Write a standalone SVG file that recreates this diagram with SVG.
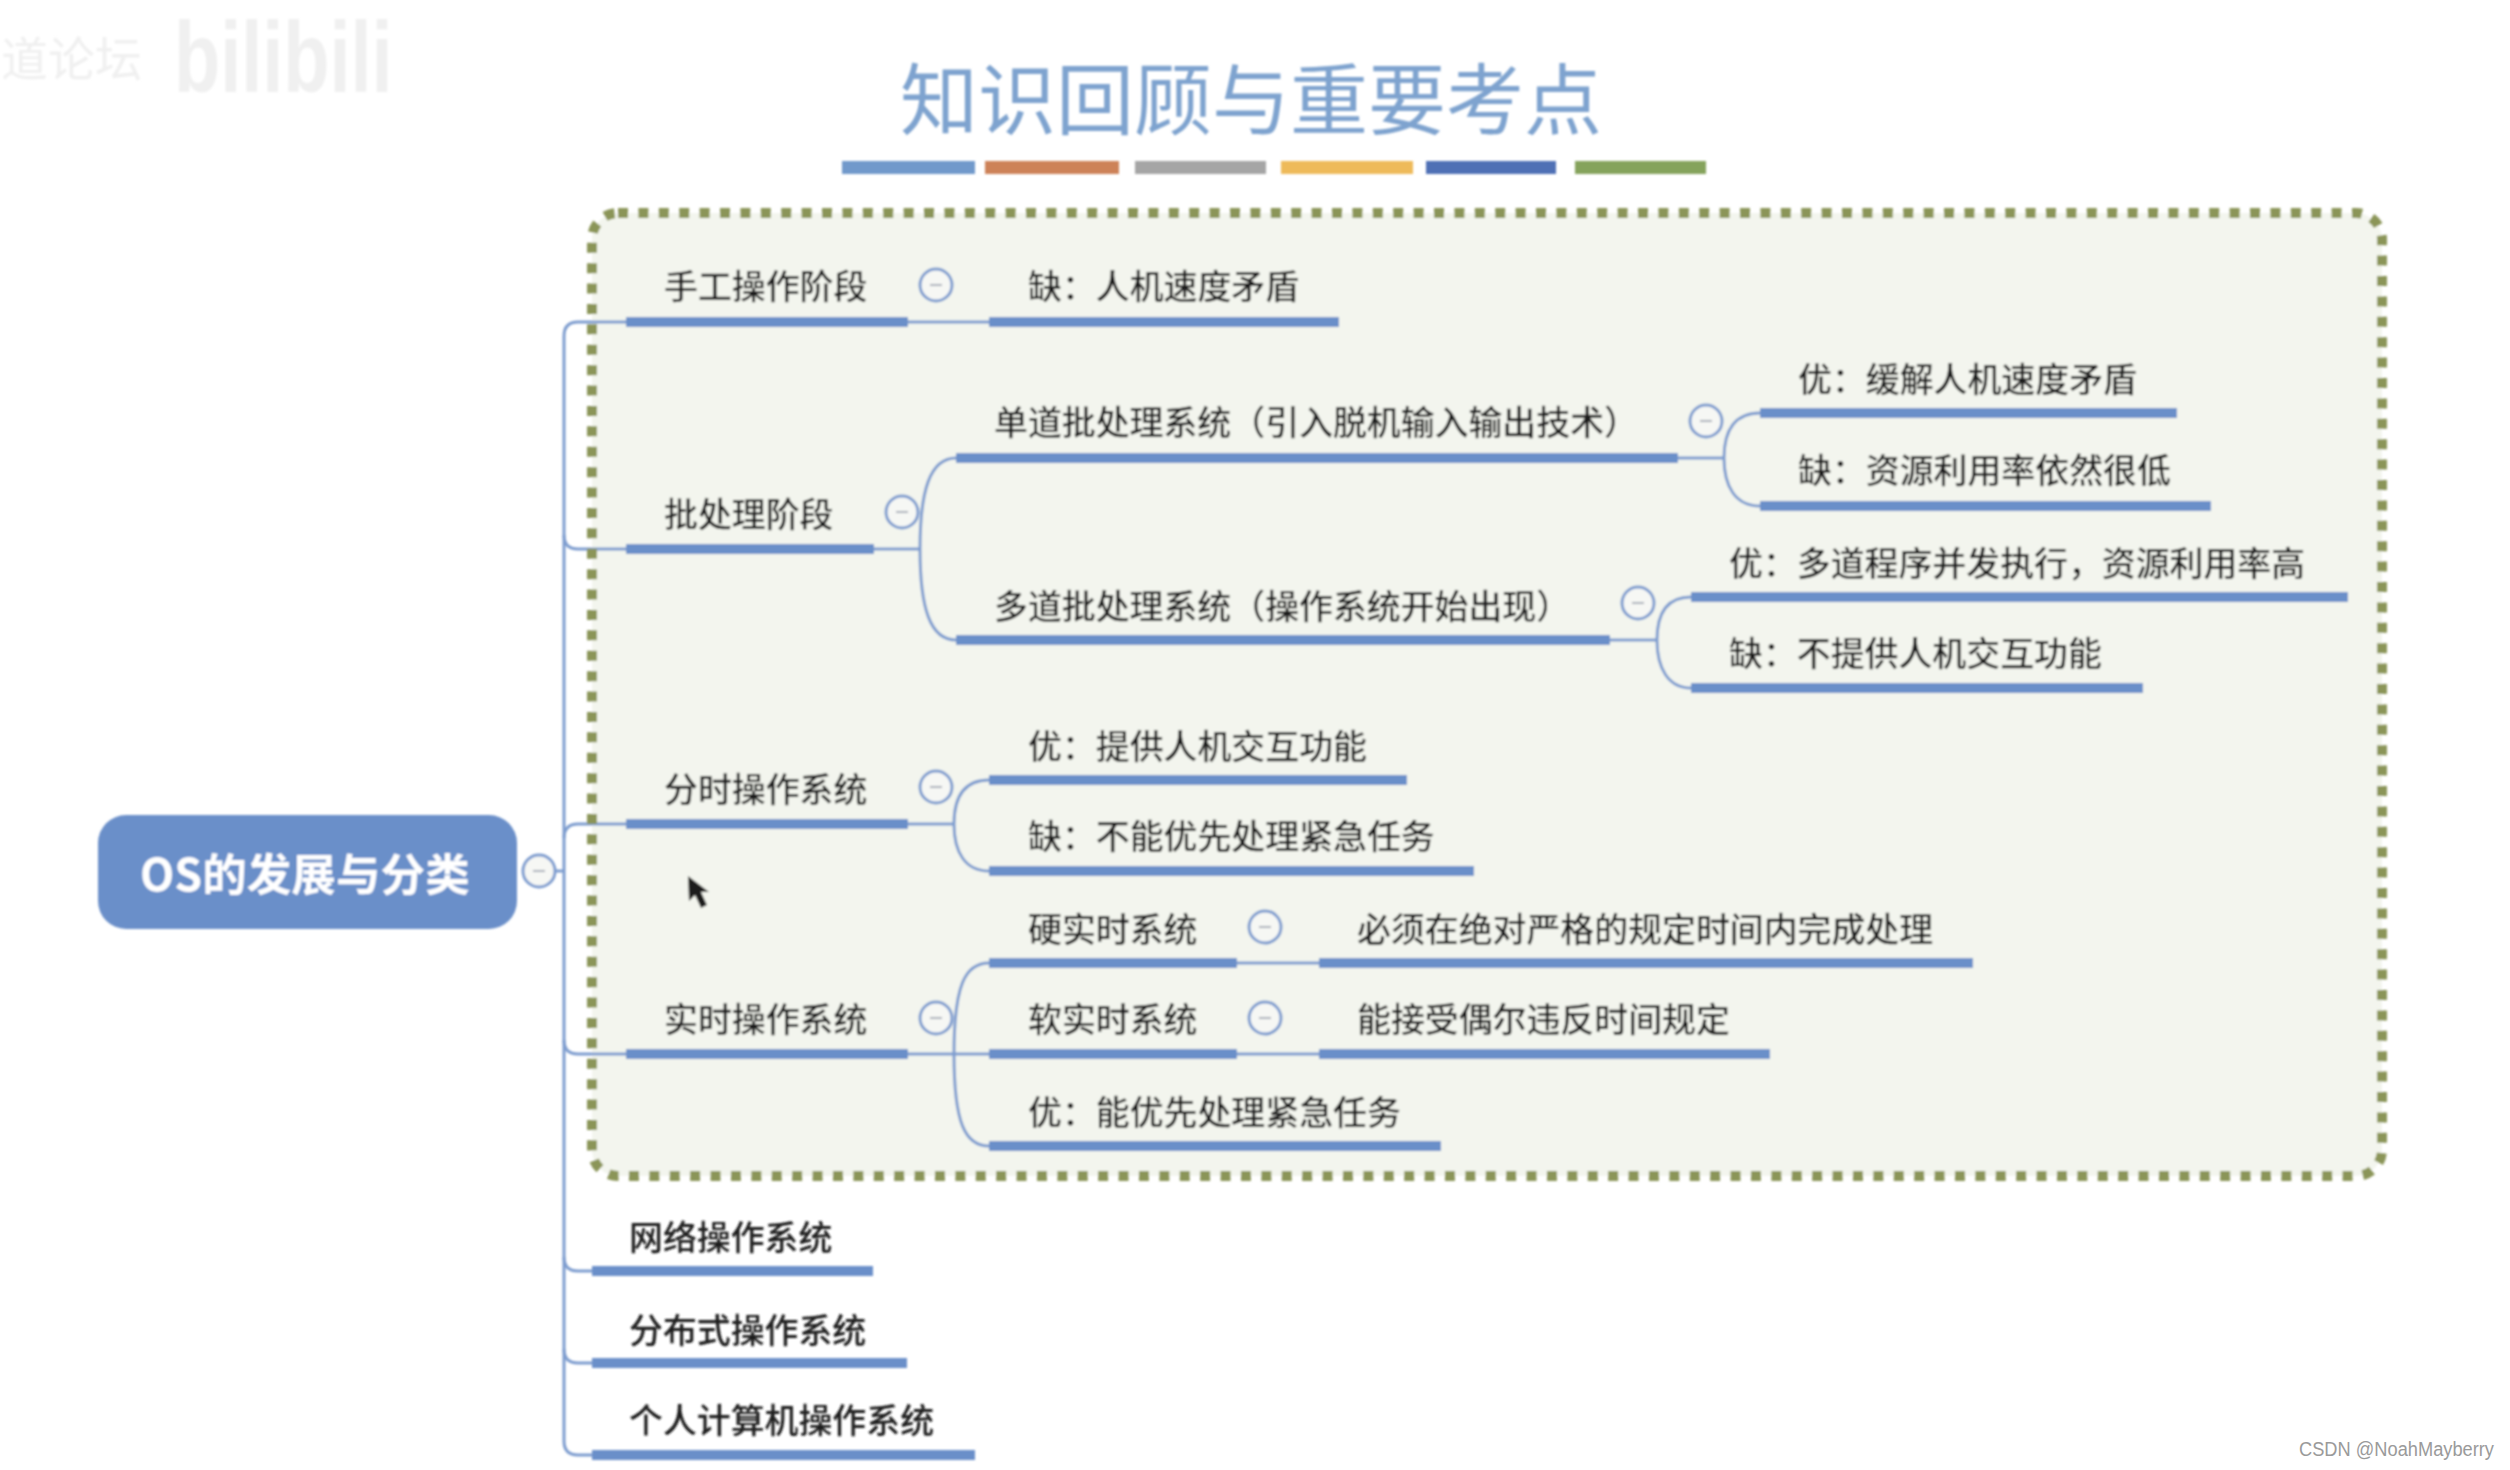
<svg xmlns="http://www.w3.org/2000/svg" width="2510" height="1470" viewBox="0 0 2510 1470">
<defs>
<style>
text{font-family:"Noto Sans CJK SC","Liberation Sans",sans-serif}
.t{font-size:33.9px;fill:#1e1e1e;font-weight:500}
.b{fill:#6a8fc9}
.c{fill:none;stroke:#7d9ccf;stroke-width:3}
.k{fill:#f6f7f4;stroke:#7d9ccf;stroke-width:3}
.m{stroke:#aab0ba;stroke-width:2}
</style>
<filter id="soft" x="-2%" y="-2%" width="104%" height="104%"><feGaussianBlur stdDeviation="0.9"/></filter>
<filter id="wm" x="-5%" y="-5%" width="110%" height="110%"><feGaussianBlur stdDeviation="1.2"/></filter>
</defs>
<rect width="2510" height="1470" fill="#fff"/>
<g id="watermark" filter="url(#wm)" fill="#f0f0f0">
<text x="1" y="76" font-size="47">道论坛</text>
<text transform="translate(174 92) scale(0.86 1.14)" font-size="88" font-weight="700" style="font-family:'Liberation Sans',sans-serif">bilibili</text>
</g>
<g filter="url(#soft)">
<g id="title">
<text x="900" y="129" font-size="78" fill="#7ea3cf">知识回顾与重要考点</text>
<rect x="842" y="161" width="133" height="13" fill="#7199cb"/>
<rect x="985" y="161" width="134" height="13" fill="#cd8259"/>
<rect x="1135" y="161" width="131" height="13" fill="#a5a5a5"/>
<rect x="1281" y="161" width="132" height="13" fill="#eeba5a"/>
<rect x="1426" y="161" width="130" height="13" fill="#4f70b5"/>
<rect x="1575" y="161" width="131" height="13" fill="#85a35c"/>
</g>
<rect id="frame-fill" x="592" y="213" width="1790" height="963" rx="26" fill="#f3f5ee"/>
<g id="connectors">
<path class="c" d="M578 322Q564 322 564 336V1441Q564 1455 578 1455H592"/>
<path class="c" d="M555 871H564"/>
<path class="c" d="M564 535Q564 549 578 549H626"/>
<path class="c" d="M564 838Q564 824 578 824H626"/>
<path class="c" d="M564 1040Q564 1054 578 1054H626"/>
<path class="c" d="M564 1257Q564 1271 578 1271H592"/>
<path class="c" d="M564 1349Q564 1363 578 1363H592"/>
<path class="c" d="M578 322H626"/>
<path class="c" d="M908 322H989"/>
<path class="c" d="M874 549H920"/>
<path class="c" d="M956 458C930 458 920 490 920 549C920 608 930 640 956 640"/>
<path class="c" d="M1678 458H1724"/>
<path class="c" d="M1760 413C1735 413 1724 430 1724 458C1724 486 1735 506 1760 506"/>
<path class="c" d="M1610 640H1657"/>
<path class="c" d="M1691 597C1668 597 1657 612 1657 640C1657 668 1668 688 1691 688"/>
<path class="c" d="M908 824H954"/>
<path class="c" d="M989 780C965 780 954 796 954 824C954 852 965 871 989 871"/>
<path class="c" d="M908 1054H989"/>
<path class="c" d="M989 963C965 963 954 985 954 1054C954 1123 965 1146 989 1146"/>
<path class="c" d="M1237 963H1319"/>
<path class="c" d="M1237 1054H1319"/>
</g>
<rect id="frame" x="592" y="213" width="1790" height="963" rx="26" fill="none" stroke="#8b9558" stroke-width="10" stroke-dasharray="10 10.4"/>
<g id="root">
<rect x="98" y="815" width="419" height="114" rx="28" fill="#6a8fc9"/>
<text x="140" y="891" font-size="44.6" font-weight="700" fill="#fff">OS的发展与分类</text>
<circle class="k" cx="539" cy="871" r="16"/><path class="m" d="M533 871H545"/>
</g>
<g id="n-manual">
<text class="t" x="664" y="299">手工操作阶段</text><rect class="b" x="626" y="317" width="282" height="10"/>
<circle class="k" cx="936" cy="285" r="16"/><path class="m" d="M930 285H942"/>
</g>
<g id="n-manual-1"><text class="t" x="1028" y="299">缺：人机速度矛盾</text><rect class="b" x="989" y="317" width="350" height="10"/></g>
<g id="n-batch">
<text class="t" x="664" y="527">批处理阶段</text><rect class="b" x="626" y="544" width="248" height="10"/>
<circle class="k" cx="902" cy="512" r="16"/><path class="m" d="M896 512H908"/>
</g>
<g id="n-single">
<text class="t" x="994" y="435">单道批处理系统（引入脱机输入输出技术）</text><rect class="b" x="956" y="453" width="722" height="10"/>
<circle class="k" cx="1706" cy="421" r="16"/><path class="m" d="M1700 421H1712"/>
</g>
<g id="n-single-1"><text class="t" x="1798" y="392">优：缓解人机速度矛盾</text><rect class="b" x="1760" y="408" width="417" height="10"/></g>
<g id="n-single-2"><text class="t" x="1798" y="483">缺：资源利用率依然很低</text><rect class="b" x="1760" y="501" width="451" height="10"/></g>
<g id="n-multi">
<text class="t" x="994" y="619">多道批处理系统（操作系统开始出现）</text><rect class="b" x="956" y="635" width="654" height="10"/>
<circle class="k" cx="1638" cy="603" r="16"/><path class="m" d="M1632 603H1644"/>
</g>
<g id="n-multi-1"><text class="t" x="1729" y="576">优：多道程序并发执行，资源利用率高</text><rect class="b" x="1691" y="592" width="657" height="10"/></g>
<g id="n-multi-2"><text class="t" x="1729" y="666">缺：不提供人机交互功能</text><rect class="b" x="1691" y="683" width="452" height="10"/></g>
<g id="n-ts">
<text class="t" x="664" y="802">分时操作系统</text><rect class="b" x="626" y="819" width="282" height="10"/>
<circle class="k" cx="936" cy="787" r="16"/><path class="m" d="M930 787H942"/>
</g>
<g id="n-ts-1"><text class="t" x="1028" y="759">优：提供人机交互功能</text><rect class="b" x="989" y="775" width="418" height="10"/></g>
<g id="n-ts-2"><text class="t" x="1028" y="849">缺：不能优先处理紧急任务</text><rect class="b" x="989" y="866" width="485" height="10"/></g>
<g id="n-rt">
<text class="t" x="664" y="1032">实时操作系统</text><rect class="b" x="626" y="1049" width="282" height="10"/>
<circle class="k" cx="936" cy="1018" r="16"/><path class="m" d="M930 1018H942"/>
</g>
<g id="n-hard">
<text class="t" x="1028" y="942">硬实时系统</text><rect class="b" x="989" y="958" width="248" height="10"/>
<circle class="k" cx="1265" cy="927" r="16"/><path class="m" d="M1259 927H1271"/>
</g>
<g id="n-hard-1"><text class="t" x="1357" y="942">必须在绝对严格的规定时间内完成处理</text><rect class="b" x="1319" y="958" width="654" height="10"/></g>
<g id="n-soft">
<text class="t" x="1028" y="1032">软实时系统</text><rect class="b" x="989" y="1049" width="248" height="10"/>
<circle class="k" cx="1265" cy="1018" r="16"/><path class="m" d="M1259 1018H1271"/>
</g>
<g id="n-soft-1"><text class="t" x="1357" y="1032">能接受偶尔违反时间规定</text><rect class="b" x="1319" y="1049" width="451" height="10"/></g>
<g id="n-rt-3"><text class="t" x="1028" y="1125">优：能优先处理紧急任务</text><rect class="b" x="989" y="1141" width="452" height="10"/></g>
<g id="n-net"><text class="t" x="629" y="1250">网络操作系统</text><rect class="b" x="592" y="1266" width="281" height="10"/></g>
<g id="n-dist"><text class="t" x="629" y="1343">分布式操作系统</text><rect class="b" x="592" y="1358" width="315" height="10"/></g>
<g id="n-pc"><text class="t" x="629" y="1433">个人计算机操作系统</text><rect class="b" x="592" y="1450" width="383" height="10"/></g>
<path id="cursor" d="M688 876L689 901L695 895L701 908L707 905L701 892L709 892Z" fill="#1a1a1a"/>
</g>
<text id="csdn" x="2299" y="1456" font-size="20" fill="#9a9a9a" style="font-family:'Liberation Sans',sans-serif" textLength="195" lengthAdjust="spacingAndGlyphs">CSDN @NoahMayberry</text>
</svg>
